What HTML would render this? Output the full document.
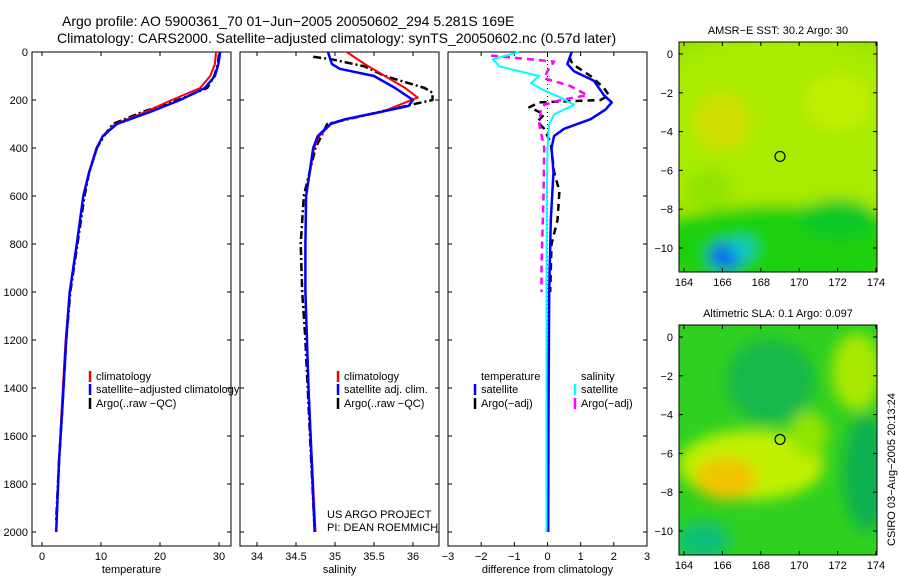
<!DOCTYPE html>
<html><head><meta charset="utf-8"><style>
body{margin:0;background:#fff;}
svg{display:block;font-family:"Liberation Sans",sans-serif;}
text{fill:#000;}
</style></head><body>
<svg id="chart" width="900" height="580" viewBox="0 0 900 580" xmlns="http://www.w3.org/2000/svg">
<defs>
<filter id="blur1" x="-50%" y="-50%" width="200%" height="200%"><feGaussianBlur stdDeviation="7"/></filter>
<clipPath id="clipm1"><rect x="679" y="42" width="198" height="230"/></clipPath>
<clipPath id="clipm2"><rect x="679" y="325" width="198" height="230"/></clipPath>
</defs>
<text x="62" y="26" font-size="14">Argo profile: AO 5900361_70 01−Jun−2005 20050602_294 5.281S 169E</text>
<text x="57" y="43" font-size="14">Climatology: CARS2000. Satellite−adjusted climatology: synTS_20050602.nc (0.57d later)</text>
<g id="panels"></g>
<text x="327" y="518" font-size="11">US ARGO PROJECT</text>
<text x="327" y="531" font-size="11">PI: DEAN ROEMMICH</text>
<text transform="translate(895,546) rotate(-90)" font-size="11">CSIRO 03−Aug−2005 20:13:24</text>
</svg>
<script>
// depth axis
const depthTicks=[0,200,400,600,800,1000,1200,1400,1600,1800,2000];
// temperature panel
const tTicks=[0,10,20,30];
const tClimDepth=[0,50,100,150,200,250,300,350,400,500,600,800,1000,1200,1500,1700,2000];
const tClim=[29.5,29.3,28.5,26.8,22,17.5,12.4,10.3,9.2,8,7,5.9,4.7,4,3.3,2.9,2.4];
const tSatDepth=[0,50,100,150,200,250,300,350,400,500,600,800,1000,1200,1500,1700,2000];
const tSat=[30.2,29.9,29.3,27.6,23.4,18.3,12.7,10.3,9.3,8,7,5.9,4.7,4.1,3.4,2.9,2.4];
const tArgoDepth=[10,50,100,150,200,250,300,350,400,500,600,800,1000,1200,1500,1700,1950];
const tArgo=[30,29.8,29.2,28,23,17,12,10.5,9.3,8,7.2,6,4.8,4.1,3.4,2.9,2.4];
// salinity panel
const sTicks=[34,34.5,35,35.5,36];
const sClimDepth=[0,50,100,150,190,200,250,280,300,350,400,600,800,1000,1400,2000];
const sClim=[35.15,35.38,35.64,35.9,36.06,35.98,35.6,35.15,34.95,34.8,34.73,34.63,34.62,34.62,34.66,34.75];
const sSatDepth=[0,50,70,100,150,200,225,250,280,300,350,400,600,800,1000,1400,2000];
const sSat=[34.91,34.96,35.06,35.5,35.77,36.0,35.94,35.58,35.13,34.94,34.78,34.72,34.63,34.62,34.62,34.66,34.74];
const sArgoDepth=[20,30,60,100,150,170,200,240,300,400,600,800,1000,1200,1600,2000];
const sArgo=[34.72,34.95,35.38,35.64,36.15,36.25,36.25,35.7,34.9,34.75,34.6,34.56,34.58,34.62,34.68,34.74];
// difference panel
const dTicks=[-3,-2,-1,0,1,2,3];
const dTSatDepth=[0,50,80,120,180,210,240,280,320,350,400,500,700,1000,1500,2000];
const dTSat=[0.73,0.6,0.8,1.4,1.7,1.94,1.75,1.3,0.5,0.2,0.12,0.18,0.1,0.05,0.03,0.02];
const dTArgoDepth=[20,50,100,150,180,200,210,230,260,290,320,380,500,580,700,800,1000];
const dTArgo=[0.66,0.75,1.3,1.7,1.85,1.6,-0.25,-0.55,-0.1,-0.3,-0.1,0.1,0.2,0.36,0.3,0.12,0.08];
const dSSatDepth=[0,30,60,100,130,160,190,220,260,300,400,600,1000,2000];
const dSSat=[-0.85,-1.65,-1.45,-0.25,-0.5,-0.1,0.4,0.8,0.2,0.05,0,-0.02,-0.03,-0.03];
const dSArgoDepth=[15,40,80,110,140,180,200,220,240,300,400,600,900,1000];
const dSArgo=[-1.7,0.2,0.0,-0.1,0.66,1.2,0.4,-0.1,-0.2,-0.25,-0.1,-0.12,-0.18,-0.18];

const NS='http://www.w3.org/2000/svg';
const root=document.getElementById('panels');
function mk(tag,attrs,parent){const e=document.createElementNS(NS,tag);for(const k in attrs)e.setAttribute(k,attrs[k]);(parent||root).appendChild(e);return e;}
const yTop=52,yBot=532,pBot=546;
function depthY(d){return yTop+(d/2000)*(yBot-yTop);}
function makeAxis(x0,x1,v0,v1){return v=>x0+(v-v0)/(v1-v0)*(x1-x0);}

const panels=[
 {x:32,w:199,vx:makeAxis(42,219,0,30),ticks:tTicks,label:'temperature',name:'temperature-panel',ylab:true},
 {x:240,w:199,vx:makeAxis(257,413,34,36),ticks:sTicks,label:'salinity',name:'salinity-panel'},
 {x:448,w:199,vx:makeAxis(448,647,-3,3),ticks:dTicks,label:'difference from climatology',name:'difference-panel'}
];
panels.forEach((p,i)=>{
  const g=mk('g',{});
  
  
  const r=mk('rect',{x:p.x,y:yTop,width:p.w,height:pBot-yTop,fill:'none',stroke:'#000','stroke-width':1},g);
  
  
  depthTicks.forEach(d=>{
    const y=depthY(d);
    mk('line',{x1:p.x,x2:p.x+4,y1:y,y2:y,stroke:'#000'},g);
    mk('line',{x1:p.x+p.w-4,x2:p.x+p.w,y1:y,y2:y,stroke:'#000'},g);
    if(p.ylab){const t=mk('text',{x:p.x-4,y:y+4,'font-size':11,'text-anchor':'end'},g);t.textContent=d;
      
      }
  });
  p.ticks.forEach(v=>{
    const x=p.vx(v);
    mk('line',{x1:x,x2:x,y1:pBot,y2:pBot-4,stroke:'#000'},g);
    mk('line',{x1:x,x2:x,y1:yTop,y2:yTop+4,stroke:'#000'},g);
    const t=mk('text',{x:x,y:pBot+14,'font-size':11,'text-anchor':'middle'},g);t.textContent=String(v).replace('-','−');
    
    
  });
  const xl=mk('text',{x:p.x+p.w/2,y:pBot+27,'font-size':11,'text-anchor':'middle'},g);xl.textContent=p.label;
  
  
});
function series(p,depths,vals,color,w,dash,name){
  const pts=depths.map((d,i)=>p.vx(vals[i]).toFixed(1)+','+depthY(d).toFixed(1)).join(' ');
  const l=mk('polyline',{points:pts,fill:'none',stroke:color,'stroke-width':w,'stroke-linejoin':'round'});
  if(dash)l.setAttribute('stroke-dasharray',dash);
  
  
}
const P=panels;
const z=mk('line',{x1:P[2].vx(0),x2:P[2].vx(0),y1:yTop,y2:yBot,stroke:'#000','stroke-dasharray':'1,3'});


series(P[0],tArgoDepth,tArgo,'#000',2.5,'8,3,2,3','temp-argo-line');
series(P[0],tClimDepth,tClim,'#f00',2,null,'temp-climatology-line');
series(P[0],tSatDepth,tSat,'#00f',2.5,null,'temp-satellite-line');
series(P[1],sArgoDepth,sArgo,'#000',2.5,'8,3,2,3','sal-argo-line');
series(P[1],sClimDepth,sClim,'#f00',2,null,'sal-climatology-line');
series(P[1],sSatDepth,sSat,'#00f',2.5,null,'sal-satellite-line');
series(P[2],dTArgoDepth,dTArgo,'#000',2.5,'7,5','diff-temp-argo-line');
series(P[2],dSArgoDepth,dSArgo,'#f0f',2.5,'7,5','diff-sal-argo-line');
series(P[2],dTSatDepth,dTSat,'#00f',2.5,null,'diff-temp-satellite-line');
series(P[2],dSSatDepth,dSSat,'#0ff',2,null,'diff-sal-satellite-line');

function legend(x,y,color,text,name){
  if(color){const l=mk('line',{x1:x,x2:x,y1:y-9,y2:y+2,stroke:color,'stroke-width':2.5});
    
    }
  const t=mk('text',{x:x+6,y:y,'font-size':11});t.textContent=text;
  
  
}
legend(90,380,'#f00','climatology','legend-climatology');
legend(90,393,'#00f','satellite−adjusted climatology','legend-satellite');
legend(90,407,'#000','Argo(..raw −QC)','legend-argo');
legend(338,380,'#f00','climatology','legend-sal-climatology');
legend(338,393,'#00f','satellite adj. clim.','legend-sal-satellite');
legend(338,407,'#000','Argo(..raw −QC)','legend-sal-argo');
legend(475,380,null,'temperature','legend-temperature-heading');
legend(475,393,'#00f','satellite','legend-diff-temp-satellite');
legend(475,407,'#000','Argo(−adj)','legend-diff-temp-argo');
legend(575,380,null,'salinity','legend-salinity-heading');
legend(575,393,'#0ff','satellite','legend-diff-sal-satellite');
legend(575,407,'#f0f','Argo(−adj)','legend-diff-sal-argo');

// maps
const lonTicks=[164,166,168,170,172,174];
const latTicks=[0,-2,-4,-6,-8,-10];
const argoLon=169.0, argoLat=-5.28;
const sstBlobs=[[169,-4,8,5,'#a8ea00'],[166,-3.5,1.5,1.5,'#d0e000'],[172,-2.5,1.8,1.5,'#c0ee00'],[169,-10,7,2.2,'#1cd010'],[172,-8.5,2,1,'#10c828'],[165.3,-7,1.2,1,'#90e400'],[166.2,-10.4,0.9,0.7,'#1060f0'],[167,-10,0.7,0.5,'#10c8d0']];
const slaBlobs=[[168.5,-2.3,2.3,2.2,'#18b848'],[167.5,-6.6,3.8,1.8,'#c0f000'],[166.2,-7.3,1.6,1.1,'#f0c400'],[173,-1.8,1.3,2,'#a8e800'],[173.5,-7,1.2,3,'#10b050'],[165,-10.5,1.4,1,'#10c078'],[170.5,-5,1,1.2,'#90e400']];
function drawMap(top,clip,base,blobs,title,name){
  const L=679,W=198,H=230;
  const lonX=makeAxis(684,876,164,174);
  const latY=la=>top+12-la*19.4;
  const g=mk('g',{});
  
  
  const inner=mk('g',{'clip-path':'url(#'+clip+')'},g);
  mk('rect',{x:L,y:top,width:W,height:H,fill:base},inner);
  const bg=mk('g',{filter:'url(#blur1)'},inner);
  blobs.forEach(b=>{
    const e=mk('ellipse',{cx:lonX(b[0]),cy:latY(b[1]),rx:b[2]*19.2,ry:b[3]*19.4,fill:b[4]},bg);
    
    
  });
  mk('rect',{x:L,y:top,width:W,height:H,fill:'none',stroke:'#000'},g);
  const c=mk('circle',{cx:lonX(argoLon),cy:latY(argoLat),r:5,fill:'none',stroke:'#000','stroke-width':1.2},g);
  
  
  lonTicks.forEach(v=>{const x=lonX(v);
    mk('line',{x1:x,x2:x,y1:top+H,y2:top+H-4,stroke:'#000'},g);
    mk('line',{x1:x,x2:x,y1:top,y2:top+4,stroke:'#000'},g);
    const t=mk('text',{x:x,y:top+H+14,'font-size':11,'text-anchor':'middle'},g);t.textContent=v;
    
    });
  latTicks.forEach(v=>{const y=latY(v);
    mk('line',{x1:L,x2:L+4,y1:y,y2:y,stroke:'#000'},g);
    mk('line',{x1:L+W-4,x2:L+W,y1:y,y2:y,stroke:'#000'},g);
    const t=mk('text',{x:L-6,y:y+4,'font-size':11,'text-anchor':'end'},g);t.textContent=String(v).replace('-','−');
    
    });
  const t=mk('text',{x:L+W/2,y:top-8,'font-size':11,'text-anchor':'middle'},g);t.textContent=title;
  
  
}
drawMap(42,'clipm1','#98e400',sstBlobs,'AMSR−E SST: 30.2 Argo: 30','sst-map');
drawMap(325,'clipm2','#30d020',slaBlobs,'Altimetric SLA: 0.1 Argo: 0.097','sla-map');
</script>
</body></html>
